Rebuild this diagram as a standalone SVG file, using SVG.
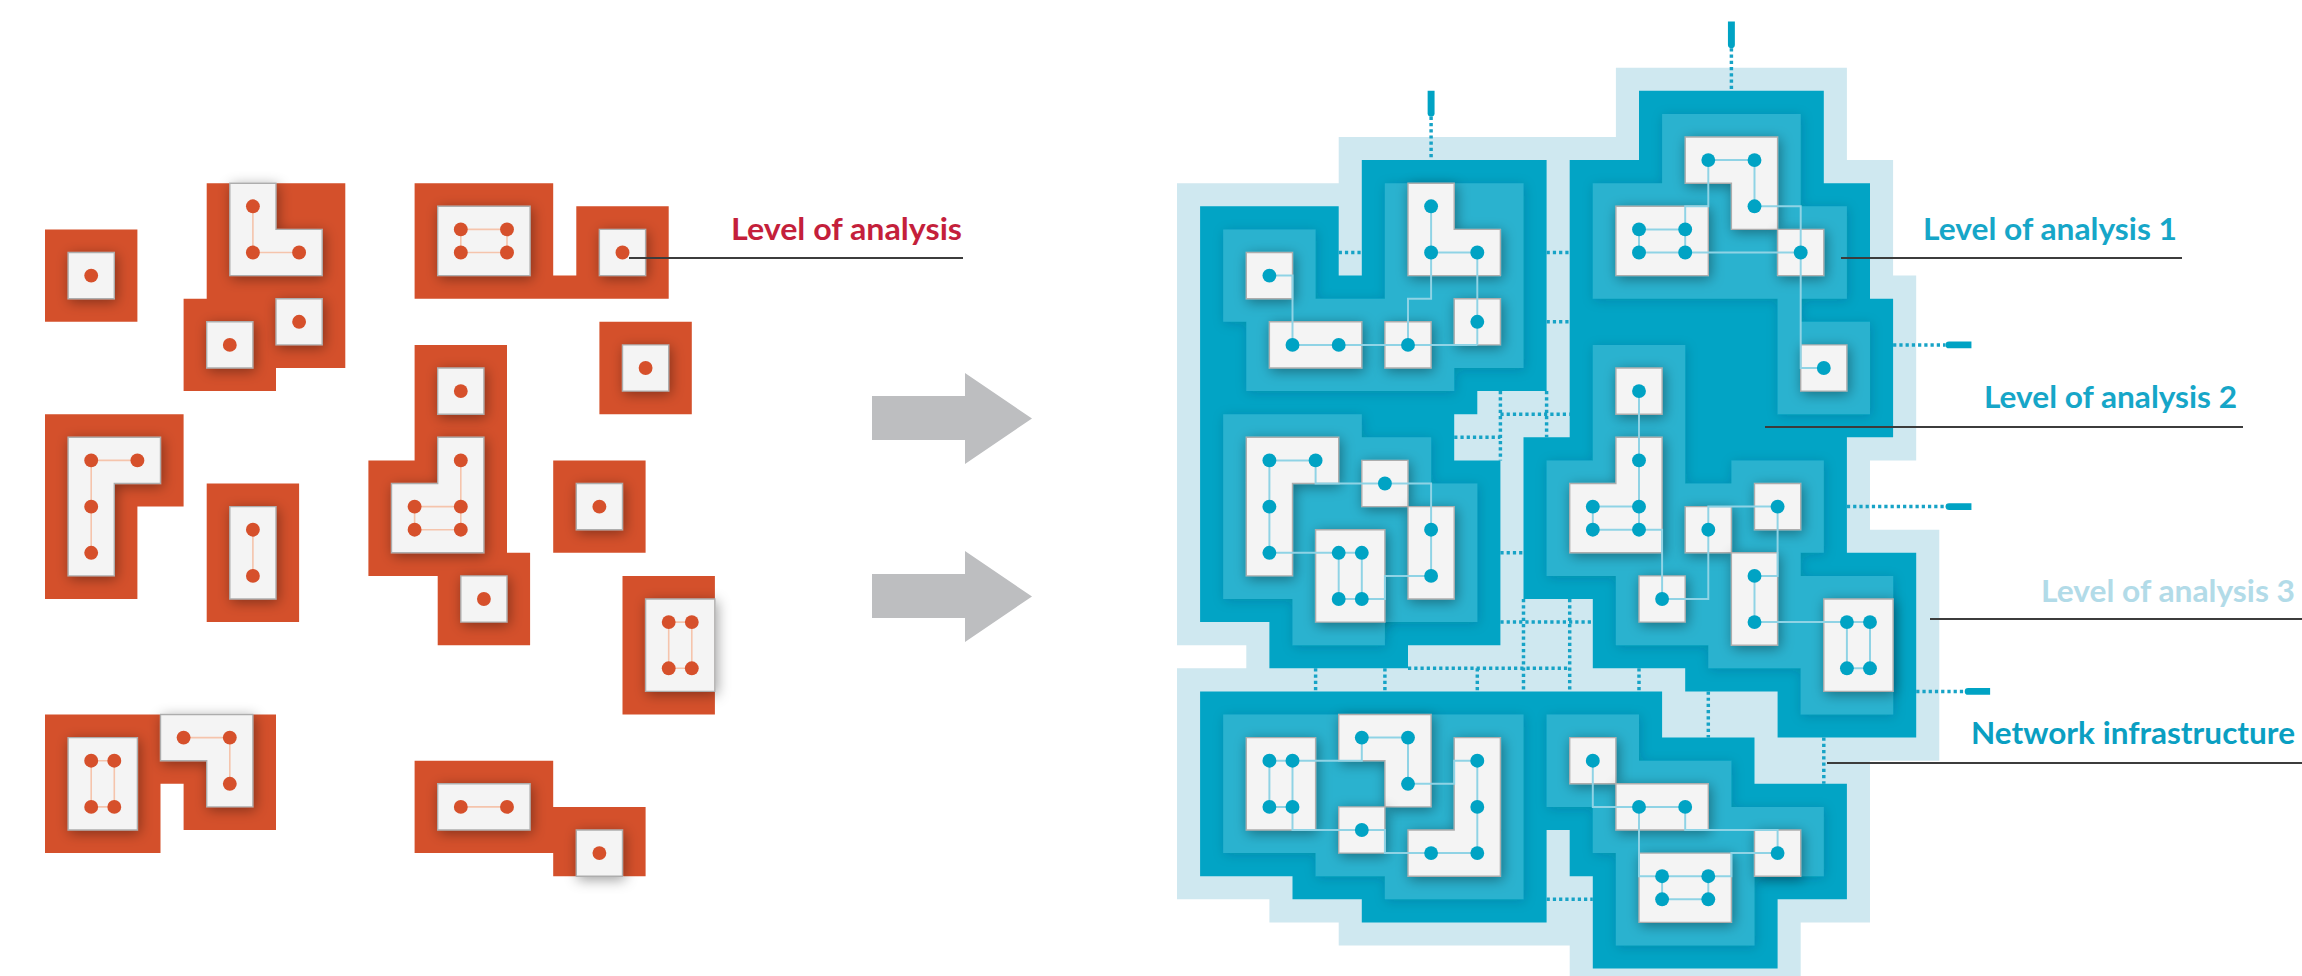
<svg xmlns="http://www.w3.org/2000/svg" width="2302" height="976" viewBox="0 0 2302 976">
<defs>
<filter id="sh" x="-50%" y="-50%" width="200%" height="200%"><feDropShadow dx="0.08" dy="0.12" stdDeviation="0.28" flood-color="#000" flood-opacity="0.38"/></filter>
<filter id="shm" x="-20%" y="-20%" width="140%" height="140%"><feDropShadow dx="0.05" dy="0.08" stdDeviation="0.25" flood-color="#003040" flood-opacity="0.18"/></filter>
</defs>
<style>
.lt{fill:#cfe8f0}
.dk{fill:#02a4c5}
.md{fill:#2ab2cf;filter:url(#shm)}
.nd{fill:#f4f4f4;stroke:#adadad;stroke-width:0.06;filter:url(#sh)}
.bd{fill:#00a3c4}
.bl{fill:none;stroke:#8fd3e5;stroke-width:0.085;stroke-linejoin:miter}
.net{fill:none;stroke:#17a3c6;stroke-width:0.15;stroke-dasharray:0.14 0.13}
.cap{fill:#00a3c4}
.or{fill:#d4502b}
.od{fill:#d6502b}
.ol{fill:none;stroke:#f5c4ac;stroke-width:0.07}
.lead{stroke:#3c3c3c;stroke-width:2;fill:none}
.lab{font-family:Lato,"Open Sans",sans-serif;font-weight:700;font-size:30px}
.arr{fill:#bdbec0}
</style>

<g id="orange-side" transform="translate(45 67.7) scale(23.1)">
<g id="o-regions">
<polygon class="or" points="0,7 4,7 4,11 0,11"/>
<polygon class="or" points="7,5 13,5 13,13 10,13 10,14 6,14 6,10 7,10"/>
<polygon class="or" points="16,5 22,5 22,9 23,9 23,6 27,6 27,10 16,10"/>
<polygon class="or" points="24,11 28,11 28,15 24,15"/>
<polygon class="or" points="0,15 6,15 6,19 4,19 4,23 0,23"/>
<polygon class="or" points="7,18 11,18 11,24 7,24"/>
<polygon class="or" points="16,12 20,12 20,21 21,21 21,25 17,25 17,22 14,22 14,17 16,17"/>
<polygon class="or" points="22,17 26,17 26,21 22,21"/>
<polygon class="or" points="25,22 29,22 29,28 25,28"/>
<polygon class="or" points="0,28 10,28 10,33 6,33 6,31 5,31 5,34 0,34"/>
<polygon class="or" points="16,30 22,30 22,32 26,32 26,35 22,35 22,34 16,34"/>
</g>
<g id="o-node-1"><polygon class="nd" points="1,8 3,8 3,10 1,10"/><circle class="od" cx="2" cy="9" r="0.3"/></g>
<g id="o-node-2"><polygon class="nd" points="8,5 10,5 10,7 12,7 12,9 8,9"/><polyline class="ol" points="9,6 9,8 11,8"/><circle class="od" cx="9" cy="6" r="0.3"/><circle class="od" cx="9" cy="8" r="0.3"/><circle class="od" cx="11" cy="8" r="0.3"/></g>
<g id="o-node-3"><polygon class="nd" points="10,10 12,10 12,12 10,12"/><circle class="od" cx="11" cy="11" r="0.3"/></g>
<g id="o-node-4"><polygon class="nd" points="7,11 9,11 9,13 7,13"/><circle class="od" cx="8" cy="12" r="0.3"/></g>
<g id="o-node-5"><polygon class="nd" points="17,6 21,6 21,9 17,9"/><polygon class="ol" points="18,7 20,7 20,8 18,8"/><circle class="od" cx="18" cy="7" r="0.3"/><circle class="od" cx="20" cy="7" r="0.3"/><circle class="od" cx="18" cy="8" r="0.3"/><circle class="od" cx="20" cy="8" r="0.3"/></g>
<g id="o-node-6"><polygon class="nd" points="24,7 26,7 26,9 24,9"/><circle class="od" cx="25" cy="8" r="0.3"/></g>
<g id="o-node-7"><polygon class="nd" points="25,12 27,12 27,14 25,14"/><circle class="od" cx="26" cy="13" r="0.3"/></g>
<g id="o-node-8"><polygon class="nd" points="1,16 5,16 5,18 3,18 3,22 1,22"/><polyline class="ol" points="4,17 2,17 2,21"/><circle class="od" cx="2" cy="17" r="0.3"/><circle class="od" cx="4" cy="17" r="0.3"/><circle class="od" cx="2" cy="19" r="0.3"/><circle class="od" cx="2" cy="21" r="0.3"/></g>
<g id="o-node-9"><polygon class="nd" points="8,19 10,19 10,23 8,23"/><polyline class="ol" points="9,20 9,22"/><circle class="od" cx="9" cy="20" r="0.3"/><circle class="od" cx="9" cy="22" r="0.3"/></g>
<g id="o-node-10"><polygon class="nd" points="17,13 19,13 19,15 17,15"/><circle class="od" cx="18" cy="14" r="0.3"/></g>
<g id="o-node-11"><polygon class="nd" points="17,16 19,16 19,21 15,21 15,18 17,18"/><polyline class="ol" points="18,17 18,20"/><polyline class="ol" points="18,19 16,19 16,20 18,20"/><circle class="od" cx="18" cy="17" r="0.3"/><circle class="od" cx="16" cy="19" r="0.3"/><circle class="od" cx="18" cy="19" r="0.3"/><circle class="od" cx="16" cy="20" r="0.3"/><circle class="od" cx="18" cy="20" r="0.3"/></g>
<g id="o-node-12"><polygon class="nd" points="18,22 20,22 20,24 18,24"/><circle class="od" cx="19" cy="23" r="0.3"/></g>
<g id="o-node-13"><polygon class="nd" points="23,18 25,18 25,20 23,20"/><circle class="od" cx="24" cy="19" r="0.3"/></g>
<g id="o-node-14"><polygon class="nd" points="26,23 29,23 29,27 26,27"/><polygon class="ol" points="27,24 28,24 28,26 27,26"/><circle class="od" cx="27" cy="24" r="0.3"/><circle class="od" cx="28" cy="24" r="0.3"/><circle class="od" cx="27" cy="26" r="0.3"/><circle class="od" cx="28" cy="26" r="0.3"/></g>
<g id="o-node-15"><polygon class="nd" points="1,29 4,29 4,33 1,33"/><polygon class="ol" points="2,30 3,30 3,32 2,32"/><circle class="od" cx="2" cy="30" r="0.3"/><circle class="od" cx="3" cy="30" r="0.3"/><circle class="od" cx="2" cy="32" r="0.3"/><circle class="od" cx="3" cy="32" r="0.3"/></g>
<g id="o-node-16"><polygon class="nd" points="5,28 9,28 9,32 7,32 7,30 5,30"/><polyline class="ol" points="6,29 8,29 8,31"/><circle class="od" cx="6" cy="29" r="0.3"/><circle class="od" cx="8" cy="29" r="0.3"/><circle class="od" cx="8" cy="31" r="0.3"/></g>
<g id="o-node-17"><polygon class="nd" points="17,31 21,31 21,33 17,33"/><polyline class="ol" points="18,32 20,32"/><circle class="od" cx="18" cy="32" r="0.3"/><circle class="od" cx="20" cy="32" r="0.3"/></g>
<g id="o-node-18"><polygon class="nd" points="23,33 25,33 25,35 23,35"/><circle class="od" cx="24" cy="34" r="0.3"/></g>
</g>

<g id="arrows">
<polygon class="arr" points="872,396 965,396 965,373 1032,418.5 965,464 965,440 872,440"/>
<polygon class="arr" points="872,574 965,574 965,551 1032,596.5 965,642 965,618 872,618"/>
</g>

<g id="blue-side" transform="translate(1177 67.7) scale(23.1)">
<g id="level3">
<polygon class="lt" points="0,5 7,5 7,3 19,3 19,0 29,0 29,4 31,4 31,9 32,9 32,17 30,17 30,20 33,20 33,30 30,30 30,37 27,37 27,40 17,40 17,38 7,38 7,37 4,37 4,36 0,36 0,26 3,26 3,25 0,25"/>
</g>
<g id="level2">
<polygon class="dk" points="1,6 7,6 7,9 8,9 8,4 16,4 16,14 13,14 13,15 12,15 12,17 14,17 14,25 10,25 10,26 4,26 4,24 1,24"/>
<polygon class="dk" points="17,4 20,4 20,1 28,1 28,5 30,5 30,10 31,10 31,16 29,16 29,21 32,21 32,29 26,29 26,27 22,27 22,26 18,26 18,23 15,23 15,16 17,16"/>
<polygon class="dk" points="1,27 21,27 21,29 25,29 25,31 29,31 29,36 26,36 26,39 18,39 18,35 17,35 17,33 16,33 16,37 8,37 8,36 5,36 5,35 1,35"/>
</g>
<g id="level1">
<polygon class="md" points="2,7 6,7 6,10 9,10 9,5 15,5 15,13 12,13 12,14 3,14 3,11 2,11"/>
<polygon class="md" points="2,15 8,15 8,16 11,16 11,18 13,18 13,24 9,24 9,25 5,25 5,23 2,23"/>
<polygon class="md" points="18,5 21,5 21,2 27,2 27,6 29,6 29,10 27,10 27,11 30,11 30,15 26,15 26,10 18,10"/>
<polygon class="md" points="18,12 22,12 22,18 24,18 24,17 28,17 28,21 27,21 27,22 31,22 31,28 27,28 27,26 23,26 23,25 19,25 19,22 16,22 16,17 18,17"/>
<polygon class="md" points="2,28 15,28 15,36 9,36 9,35 6,35 6,34 2,34"/>
<polygon class="md" points="16,28 20,28 20,30 24,30 24,32 28,32 28,35 25,35 25,38 19,38 19,34 18,34 18,32 16,32"/>
</g>
<g id="network-infrastructure">
<path class="net" d="M11,2.12V4 M24,-0.84V1 M31,12H33.27 M29,19H33.27 M32,27H34.1 M7,8H8 M16,8H17 M16,11H17 M14,14V17 M16,14V16 M14,15H17 M12,16H14 M14,21H15 M14,24H18 M15,23V27 M17,23V27 M10,26H17 M6,26V27 M9,26V27 M13,26V27 M20,26V27 M23,27V29 M28,29V31 M16,36H18"/>
<path class="cap" d="M10.85,1H11.15V1.97A0.15,0.15 0 0 1 10.85,1.97Z"/>
<path class="cap" d="M23.85,-2H24.15V-0.99A0.15,0.15 0 0 1 23.85,-0.99Z"/>
<path class="cap" d="M34.39,11.85V12.15H33.42A0.15,0.15 0 0 1 33.42,11.85Z"/>
<path class="cap" d="M34.39,18.85V19.15H33.42A0.15,0.15 0 0 1 33.42,18.85Z"/>
<path class="cap" d="M35.2,26.85V27.15H34.25A0.15,0.15 0 0 1 34.25,26.85Z"/>
</g>
<g id="b-nodes">
<g id="node-A"><polygon class="nd" points="3,8 5,8 5,10 3,10"/></g>
<g id="node-B"><polygon class="nd" points="10,5 12,5 12,7 14,7 14,9 10,9"/></g>
<g id="node-C"><polygon class="nd" points="12,10 14,10 14,12 12,12"/></g>
<g id="node-D"><polygon class="nd" points="4,11 8,11 8,13 4,13"/></g>
<g id="node-E"><polygon class="nd" points="9,11 11,11 11,13 9,13"/></g>
<g id="node-F"><polygon class="nd" points="19,6 23,6 23,9 19,9"/></g>
<g id="node-G"><polygon class="nd" points="22,3 26,3 26,7 24,7 24,5 22,5"/></g>
<g id="node-H"><polygon class="nd" points="26,7 28,7 28,9 26,9"/></g>
<g id="node-I"><polygon class="nd" points="27,12 29,12 29,14 27,14"/></g>
<g id="node-J"><polygon class="nd" points="3,16 7,16 7,18 5,18 5,22 3,22"/></g>
<g id="node-K"><polygon class="nd" points="8,17 10,17 10,19 8,19"/></g>
<g id="node-L"><polygon class="nd" points="10,19 12,19 12,23 10,23"/></g>
<g id="node-M"><polygon class="nd" points="6,20 9,20 9,24 6,24"/></g>
<g id="node-N"><polygon class="nd" points="19,13 21,13 21,15 19,15"/></g>
<g id="node-O"><polygon class="nd" points="19,16 21,16 21,21 17,21 17,18 19,18"/></g>
<g id="node-P"><polygon class="nd" points="20,22 22,22 22,24 20,24"/></g>
<g id="node-Q"><polygon class="nd" points="22,19 24,19 24,21 22,21"/></g>
<g id="node-R"><polygon class="nd" points="25,18 27,18 27,20 25,20"/></g>
<g id="node-S"><polygon class="nd" points="24,21 26,21 26,25 24,25"/></g>
<g id="node-T"><polygon class="nd" points="28,23 31,23 31,27 28,27"/></g>
<g id="node-U"><polygon class="nd" points="3,29 6,29 6,33 3,33"/></g>
<g id="node-V"><polygon class="nd" points="7,28 11,28 11,32 9,32 9,30 7,30"/></g>
<g id="node-W"><polygon class="nd" points="7,32 9,32 9,34 7,34"/></g>
<g id="node-X"><polygon class="nd" points="12,29 14,29 14,35 10,35 10,33 12,33"/></g>
<g id="node-Y"><polygon class="nd" points="17,29 19,29 19,31 17,31"/></g>
<g id="node-Z"><polygon class="nd" points="19,31 23,31 23,33 19,33"/></g>
<g id="node-AA"><polygon class="nd" points="25,33 27,33 27,35 25,35"/></g>
<g id="node-BB"><polygon class="nd" points="20,34 24,34 24,37 20,37"/></g>
</g>
<g id="b-links">
<polyline class="bl" points="4,9 5,9 5,12"/>
<polyline class="bl" points="5,12 13,12"/>
<polyline class="bl" points="13,8 13,12"/>
<polyline class="bl" points="11,6 11,8 13,8"/>
<polyline class="bl" points="11,8 11,10 10,10 10,12"/>
<polyline class="bl" points="23,4 23,6 22,6 22,7"/>
<polyline class="bl" points="23,4 25,4 25,6 27,6 27,13 28,13"/>
<polygon class="bl" points="20,7 22,7 22,8 20,8"/>
<polyline class="bl" points="22,8 27,8"/>
<polyline class="bl" points="6,17 4,17 4,21 8,21"/>
<polyline class="bl" points="6,17 6,18 11,18 11,22"/>
<polyline class="bl" points="7,21 7,23 9,23 9,22 11,22"/>
<polyline class="bl" points="8,21 8,23"/>
<polyline class="bl" points="20,14 20,20 21,20 21,23 23,23 23,19 26,19 26,22 25,22 25,24 30,24 30,26 29,26 29,24"/>
<polyline class="bl" points="18,19 20,19"/>
<polyline class="bl" points="18,19 18,20 20,20"/>
<polyline class="bl" points="4,30 8,30 8,29 10,29 10,31 12,31 12,30 13,30 13,34 9,34 9,33 5,33 5,30"/>
<polyline class="bl" points="4,30 4,32 5,32"/>
<polyline class="bl" points="18,30 18,32 22,32 22,33 26,33 26,34 24,34 24,35 20,35 20,32"/>
<polyline class="bl" points="21,35 21,36 23,36 23,35"/>
</g>
<g id="b-dots">
<circle class="bd" cx="4" cy="9" r="0.3"/>
<circle class="bd" cx="11" cy="6" r="0.3"/><circle class="bd" cx="11" cy="8" r="0.3"/><circle class="bd" cx="13" cy="8" r="0.3"/>
<circle class="bd" cx="13" cy="11" r="0.3"/>
<circle class="bd" cx="5" cy="12" r="0.3"/><circle class="bd" cx="7" cy="12" r="0.3"/>
<circle class="bd" cx="10" cy="12" r="0.3"/>
<circle class="bd" cx="20" cy="7" r="0.3"/><circle class="bd" cx="22" cy="7" r="0.3"/><circle class="bd" cx="20" cy="8" r="0.3"/><circle class="bd" cx="22" cy="8" r="0.3"/>
<circle class="bd" cx="23" cy="4" r="0.3"/><circle class="bd" cx="25" cy="4" r="0.3"/><circle class="bd" cx="25" cy="6" r="0.3"/>
<circle class="bd" cx="27" cy="8" r="0.3"/>
<circle class="bd" cx="28" cy="13" r="0.3"/>
<circle class="bd" cx="4" cy="17" r="0.3"/><circle class="bd" cx="6" cy="17" r="0.3"/><circle class="bd" cx="4" cy="19" r="0.3"/><circle class="bd" cx="4" cy="21" r="0.3"/>
<circle class="bd" cx="9" cy="18" r="0.3"/>
<circle class="bd" cx="11" cy="20" r="0.3"/><circle class="bd" cx="11" cy="22" r="0.3"/>
<circle class="bd" cx="7" cy="21" r="0.3"/><circle class="bd" cx="8" cy="21" r="0.3"/><circle class="bd" cx="7" cy="23" r="0.3"/><circle class="bd" cx="8" cy="23" r="0.3"/>
<circle class="bd" cx="20" cy="14" r="0.3"/>
<circle class="bd" cx="20" cy="17" r="0.3"/><circle class="bd" cx="18" cy="19" r="0.3"/><circle class="bd" cx="20" cy="19" r="0.3"/><circle class="bd" cx="18" cy="20" r="0.3"/><circle class="bd" cx="20" cy="20" r="0.3"/>
<circle class="bd" cx="21" cy="23" r="0.3"/>
<circle class="bd" cx="23" cy="20" r="0.3"/>
<circle class="bd" cx="26" cy="19" r="0.3"/>
<circle class="bd" cx="25" cy="22" r="0.3"/><circle class="bd" cx="25" cy="24" r="0.3"/>
<circle class="bd" cx="29" cy="24" r="0.3"/><circle class="bd" cx="30" cy="24" r="0.3"/><circle class="bd" cx="29" cy="26" r="0.3"/><circle class="bd" cx="30" cy="26" r="0.3"/>
<circle class="bd" cx="4" cy="30" r="0.3"/><circle class="bd" cx="5" cy="30" r="0.3"/><circle class="bd" cx="4" cy="32" r="0.3"/><circle class="bd" cx="5" cy="32" r="0.3"/>
<circle class="bd" cx="8" cy="29" r="0.3"/><circle class="bd" cx="10" cy="29" r="0.3"/><circle class="bd" cx="10" cy="31" r="0.3"/>
<circle class="bd" cx="8" cy="33" r="0.3"/>
<circle class="bd" cx="13" cy="30" r="0.3"/><circle class="bd" cx="13" cy="32" r="0.3"/><circle class="bd" cx="13" cy="34" r="0.3"/><circle class="bd" cx="11" cy="34" r="0.3"/>
<circle class="bd" cx="18" cy="30" r="0.3"/>
<circle class="bd" cx="20" cy="32" r="0.3"/><circle class="bd" cx="22" cy="32" r="0.3"/>
<circle class="bd" cx="26" cy="34" r="0.3"/>
<circle class="bd" cx="21" cy="35" r="0.3"/><circle class="bd" cx="23" cy="35" r="0.3"/><circle class="bd" cx="21" cy="36" r="0.3"/><circle class="bd" cx="23" cy="36" r="0.3"/>
</g>
</g>

<g id="labels">
<line class="lead" x1="629" y1="258" x2="963" y2="258"/>
<text class="lab" x="962" y="240" text-anchor="end" fill="#c41f3b" textLength="231" lengthAdjust="spacingAndGlyphs">Level of analysis</text>
<line class="lead" x1="1841" y1="258" x2="2182" y2="258"/>
<text class="lab" x="2177" y="240" text-anchor="end" fill="#16a6c8" textLength="254" lengthAdjust="spacingAndGlyphs">Level of analysis 1</text>
<line class="lead" x1="1765" y1="427" x2="2243" y2="427"/>
<text class="lab" x="2237" y="408" text-anchor="end" fill="#16a6c8" textLength="253" lengthAdjust="spacingAndGlyphs">Level of analysis 2</text>
<line class="lead" x1="1930" y1="619" x2="2302" y2="619"/>
<text class="lab" x="2295" y="602" text-anchor="end" fill="#b2dbe8" textLength="254" lengthAdjust="spacingAndGlyphs">Level of analysis 3</text>
<line class="lead" x1="1827" y1="763" x2="2302" y2="763"/>
<text class="lab" x="2295" y="744" text-anchor="end" fill="#0a9fc2" font-weight="900" textLength="324" lengthAdjust="spacingAndGlyphs">Network infrastructure</text>
</g>
</svg>
